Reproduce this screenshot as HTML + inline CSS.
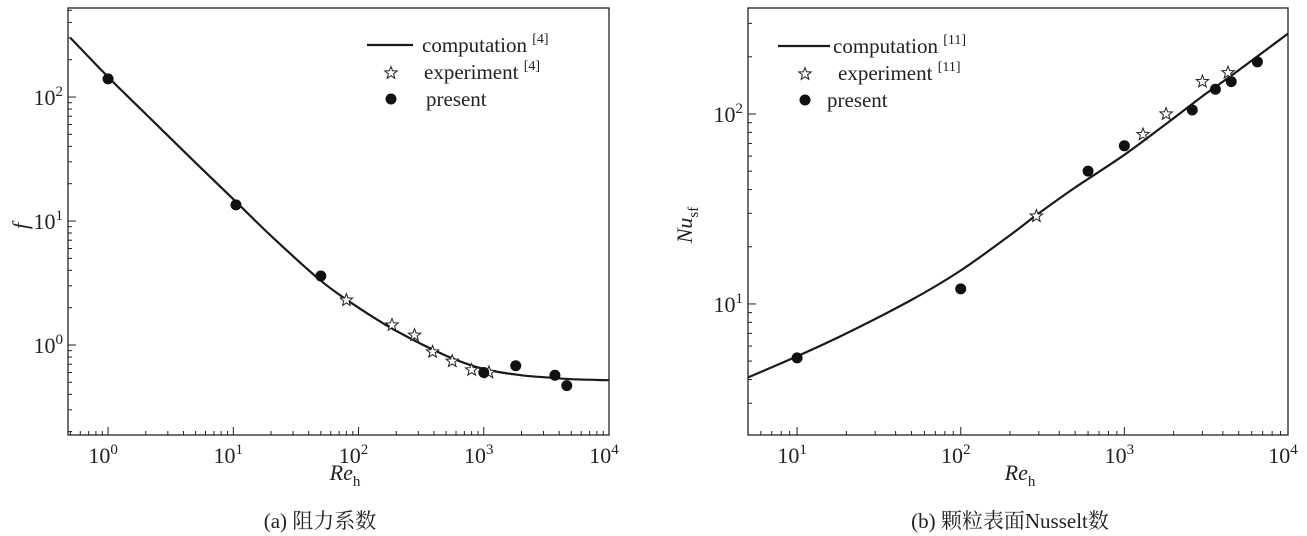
<!DOCTYPE html>
<html><head><meta charset="utf-8"><style>
html,body{margin:0;padding:0;background:#fff;}
svg{display:block;}
svg text{font-family:"Liberation Serif",serif;}
svg text.cjk{font-family:"Liberation Serif","Noto Serif CJK SC",serif;}
</style></head><body>
<svg id="c" width="1307" height="536" viewBox="0 0 1307 536" xmlns="http://www.w3.org/2000/svg"></svg>
<script>
// ---- Chart (a) data ----
const aCurveRe = [0.5, 1, 2, 5, 10, 20, 50, 100, 200, 500, 1000, 2000, 3000, 5000, 10000];
const aCurveF = [300, 145, 73, 29.5, 15, 7.6, 3.3, 2.0, 1.3, 0.82, 0.64, 0.57, 0.55, 0.53, 0.52];
const aExpRe = [80, 185, 280, 390, 560, 800, 1100];
const aExpF = [2.3, 1.45, 1.2, 0.88, 0.74, 0.63, 0.6];
const aPresRe = [1, 10.5, 50, 1000, 1800, 3700, 4600];
const aPresF = [140, 13.5, 3.6, 0.6, 0.68, 0.57, 0.47];
const aXTicks = ["0", "1", "2", "3", "4"];
const aYTicks = ["0", "1", "2"];
// ---- Chart (b) data ----
const bCurveRe = [5, 10, 20, 50, 100, 200, 300, 500, 1000, 2000, 3000, 5000, 10000];
const bCurveNu = [4.1, 5.3, 7.0, 10.5, 15, 23, 30, 41, 61, 95, 124, 170, 265];
const bExpRe = [290, 1300, 1800, 3000, 4300];
const bExpNu = [29, 78, 100, 148, 165];
const bPresRe = [10, 100, 600, 1000, 2600, 3600, 4500, 6500];
const bPresNu = [5.2, 12, 50, 68, 105, 135, 148, 188];
const bXTicks = ["1", "2", "3", "4"];
const bYTicks = ["1", "2"];

const NS = "http://www.w3.org/2000/svg";
const svg = document.getElementById("c");
function mk(tag, attrs, parent) {
  const e = document.createElementNS(NS, tag);
  for (const k in attrs) e.setAttribute(k, attrs[k]);
  (parent || svg).appendChild(e);
  return e;
}
function star(cx, cy, r) {
  let p = [];
  for (let i = 0; i < 10; i++) {
    const rr = i % 2 ? r * 0.42 : r;
    const a = -Math.PI / 2 + i * Math.PI / 5;
    p.push((cx + rr * Math.cos(a)).toFixed(1) + "," + (cy + rr * Math.sin(a)).toFixed(1));
  }
  return p.join(" ");
}
function smoothPath(pts) {
  let d = "M" + pts[0][0].toFixed(1) + "," + pts[0][1].toFixed(1);
  for (let i = 0; i < pts.length - 1; i++) {
    const p0 = pts[Math.max(0, i - 1)], p1 = pts[i], p2 = pts[i + 1], p3 = pts[Math.min(pts.length - 1, i + 2)];
    const c1x = p1[0] + (p2[0] - p0[0]) / 6, c1y = p1[1] + (p2[1] - p0[1]) / 6;
    const c2x = p2[0] - (p3[0] - p1[0]) / 6, c2y = p2[1] - (p3[1] - p1[1]) / 6;
    d += "C" + c1x.toFixed(1) + "," + c1y.toFixed(1) + " " + c2x.toFixed(1) + "," + c2y.toFixed(1) + " " + p2[0].toFixed(1) + "," + p2[1].toFixed(1);
  }
  return d;
}
function chart(o) {
  const g = mk("g", {});
  
  
  const X = v => o.x0 + (Math.log10(v) - o.lx0) / (o.lx1 - o.lx0) * (o.x1 - o.x0);
  const Y = v => o.y1 - (Math.log10(v) - o.ly0) / (o.ly1 - o.ly0) * (o.y1 - o.y0);
  const frame = mk("rect", {x: o.x0, y: o.y0, width: o.x1 - o.x0, height: o.y1 - o.y0, fill: "none", stroke: "#222", "stroke-width": 1.3}, g);
  
  
  for (let d = Math.floor(o.lx0); d <= Math.ceil(o.lx1); d++) {
    for (let m = 1; m < 10; m++) {
      const v = m * Math.pow(10, d);
      const lv = Math.log10(v);
      if (lv < o.lx0 - 1e-9 || lv > o.lx1 + 1e-9) continue;
      const x = X(v);
      const t = mk("line", {x1: x, x2: x, y1: o.y1, y2: o.y1 - (m === 1 ? 8 : 4), stroke: "#222", "stroke-width": 1}, g);
      
      
    }
  }
  o.xt.forEach(s => {
    const x = X(Math.pow(10, +s));
    const t = mk("text", {x: x - 5, y: o.y1 + 28, "font-size": 22, "text-anchor": "middle", fill: "#222"}, g);
    
    
    t.innerHTML = '10<tspan dy="-9" font-size="15">' + s + '</tspan>';
  });
  for (let d = Math.floor(o.ly0); d <= Math.ceil(o.ly1); d++) {
    for (let m = 1; m < 10; m++) {
      const v = m * Math.pow(10, d);
      const lv = Math.log10(v);
      if (lv < o.ly0 - 1e-9 || lv > o.ly1 + 1e-9) continue;
      const y = Y(v);
      const t = mk("line", {x1: o.x0, x2: o.x0 + (m === 1 ? 8 : 4), y1: y, y2: y, stroke: "#222", "stroke-width": 1}, g);
      
      
    }
  }
  o.yt.forEach(s => {
    const y = Y(Math.pow(10, +s));
    const t = mk("text", {x: o.x0 - 5, y: y + 8, "font-size": 22, "text-anchor": "end", fill: "#222"}, g);
    
    
    t.innerHTML = '10<tspan dy="-9" font-size="15">' + s + '</tspan>';
  });
  const pts = o.cx.map((v, i) => [X(v), Y(o.cy[i])]);
  const cp = mk("clipPath", {id: o.name + "-clip"}, g);
  mk("rect", {x: o.x0, y: o.y0, width: o.x1 - o.x0, height: o.y1 - o.y0}, cp);
  const line = mk("path", {d: smoothPath(pts), fill: "none", stroke: "#1a1a1a", "stroke-width": 2.2, "clip-path": "url(#" + o.name + "-clip)", "stroke-linejoin": "round"}, g);
  
  
  o.ex.forEach((v, i) => {
    const s = mk("polygon", {points: star(X(v), Y(o.ey[i]), 6.5), fill: "#fff", stroke: "#222", "stroke-width": 1}, g);
    
    
  });
  o.px.forEach((v, i) => {
    const c = mk("circle", {cx: X(v), cy: Y(o.py[i]), r: 5.5, fill: "#111"}, g);
    
    
  });
  const L = o.leg;
  const lg = mk("g", {}, g);
  
  
  mk("line", {x1: L.lx0, x2: L.lx1, y1: L.y, y2: L.y, stroke: "#1a1a1a", "stroke-width": 2.2}, lg);
  mk("polygon", {points: star(L.mx, L.y + 28, 6.5), fill: "#fff", stroke: "#222", "stroke-width": 1}, lg);
  mk("circle", {cx: L.mx, cy: L.y + 54, r: 5.5, fill: "#111"}, lg);
  const t1 = mk("text", {x: L.tx[0], y: L.y + 7, "font-size": 21, fill: "#222"}, lg);
  t1.innerHTML = 'computation <tspan dy="-9" font-size="14">[' + L.ref + ']</tspan>';
  const t2 = mk("text", {x: L.tx[1], y: L.y + 34, "font-size": 21, fill: "#222"}, lg);
  t2.innerHTML = 'experiment <tspan dy="-9" font-size="14">[' + L.ref + ']</tspan>';
  const t3 = mk("text", {x: L.tx[2], y: L.y + 61, "font-size": 21, fill: "#222"}, lg);
  t3.textContent = 'present';
  const xt = mk("text", {x: o.xtx, y: 480, "font-size": 22, fill: "#222", "text-anchor": "middle"}, g);
  
  
  xt.innerHTML = '<tspan font-style="italic">Re</tspan><tspan dy="6" font-size="15">h</tspan>';
  const yt = mk("text", {x: 0, y: 0, "font-size": 22, fill: "#222", "text-anchor": "middle", transform: "translate(" + o.ytx + "," + o.yty + ") rotate(-90)"}, g);
  
  
  yt.innerHTML = o.ylab;
  const cap = mk("text", {x: o.capx, y: 528, "font-size": 21, fill: "#222", "text-anchor": "middle", "class": "cjk"}, g);
  
  
  cap.textContent = o.cap;
}
chart({name: "chart-a-friction", x0: 68, x1: 609, y0: 8, y1: 435,
  lx0: -0.32, lx1: 4, ly0: -0.726, ly1: 2.718,
  cx: aCurveRe, cy: aCurveF, ex: aExpRe, ey: aExpF, px: aPresRe, py: aPresF,
  xt: aXTicks, yt: aYTicks,
  leg: {lx0: 367, lx1: 413, y: 45, mx: 391, tx: [422, 424, 426], ref: "4"},
  xtx: 345, ytx: 28, yty: 226, ylab: '<tspan font-style="italic">f</tspan>',
  capx: 320, cap: "(a) 阻力系数"});
chart({name: "chart-b-nusselt", x0: 748, x1: 1288, y0: 8, y1: 435,
  lx0: 0.70, lx1: 4, ly0: 0.31, ly1: 2.558,
  cx: bCurveRe, cy: bCurveNu, ex: bExpRe, ey: bExpNu, px: bPresRe, py: bPresNu,
  xt: bXTicks, yt: bYTicks,
  leg: {lx0: 778, lx1: 830, y: 46, mx: 805, tx: [833, 838, 827], ref: "11"},
  xtx: 1020, ytx: 692, yty: 225, ylab: '<tspan font-style="italic">Nu</tspan><tspan dy="6" font-size="15">sf</tspan>',
  capx: 1010, cap: "(b) 颗粒表面Nusselt数"});
</script>
</body></html>
